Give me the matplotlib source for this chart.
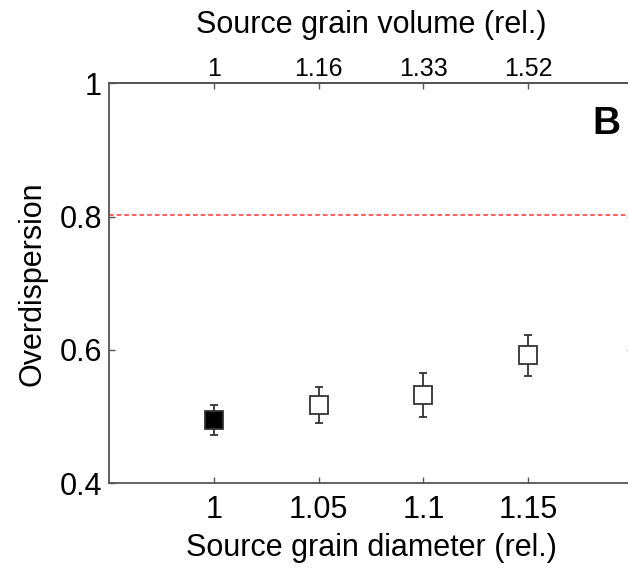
import numpy as np
import matplotlib
matplotlib.use("Agg")
import matplotlib.pyplot as plt

plt.rcParams['font.family'] = ['Liberation Sans', 'DejaVu Sans']

# data
diameter = [1.0, 1.05, 1.1, 1.15]
overdispersion = [0.495, 0.517, 0.533, 0.592]
err = [0.022, 0.027, 0.033, 0.031]
filled = [True, False, False, False]

volume_labels = ["1", "1.16", "1.33", "1.52"]
diameter_labels = ["1", "1.05", "1.1", "1.15"]
y_ticks = [0.4, 0.6, 0.8, 1.0]
y_labels = ["0.4", "0.6", "0.8", "1"]
reference_level = 0.802

W, H = 628, 571
fig = plt.figure(figsize=(W / 100, H / 100), dpi=100)
ax = fig.add_axes([109 / W, (H - 483.3) / H, (633 - 109) / W, 400 / H])

spine_col = "#555555"

ax.axhline(reference_level, color="#ff3333", linestyle=(0, (3, 2)), linewidth=1.1, zorder=1)

for x, y, e, f in zip(diameter, overdispersion, err, filled):
	ax.errorbar(x, y, yerr=e, fmt="none", ecolor="#333333", elinewidth=1.3,
				capsize=3, capthick=1.3, zorder=2)
	ax.plot(x, y, marker="s", markersize=13, markeredgewidth=1.3,
			markeredgecolor="#333333", markerfacecolor="black" if f else "white",
			linestyle="none", zorder=3)

ax.set_xlim(0.95, 1.2)
ax.set_ylim(0.4, 1.0)
ax.set_xticks(diameter)
ax.set_xticklabels(diameter_labels)
ax.set_yticks(y_ticks)
ax.set_yticklabels(y_labels)

for s in ax.spines.values():
	s.set_color(spine_col)
	s.set_linewidth(1.3)

ax.tick_params(direction="in", length=4.5, width=1.0, color=spine_col,
			   labelsize=22, right=True, pad=8.5)
ax.tick_params(axis="y", labelsize=22, pad=5)

ax.set_xlabel("Source grain diameter (rel.)", fontsize=22, labelpad=6)
ax.set_ylabel("Overdispersion", fontsize=22, labelpad=9)

top = ax.secondary_xaxis("top")
top.set_xticks(diameter)
top.set_xticklabels(volume_labels)
top.tick_params(direction="in", length=4.5, width=1.0, color=spine_col,
				labelsize=18, pad=2)
top.spines["top"].set_color(spine_col)
top.spines["top"].set_linewidth(1.3)
top.set_xlabel("Source grain volume (rel.)", fontsize=22, labelpad=17)

fig.text(606 / W, 1 - 124 / H, "B", fontsize=28, fontweight="bold",
		 ha="center", va="center")

fig.savefig("out.png", dpi=100)
